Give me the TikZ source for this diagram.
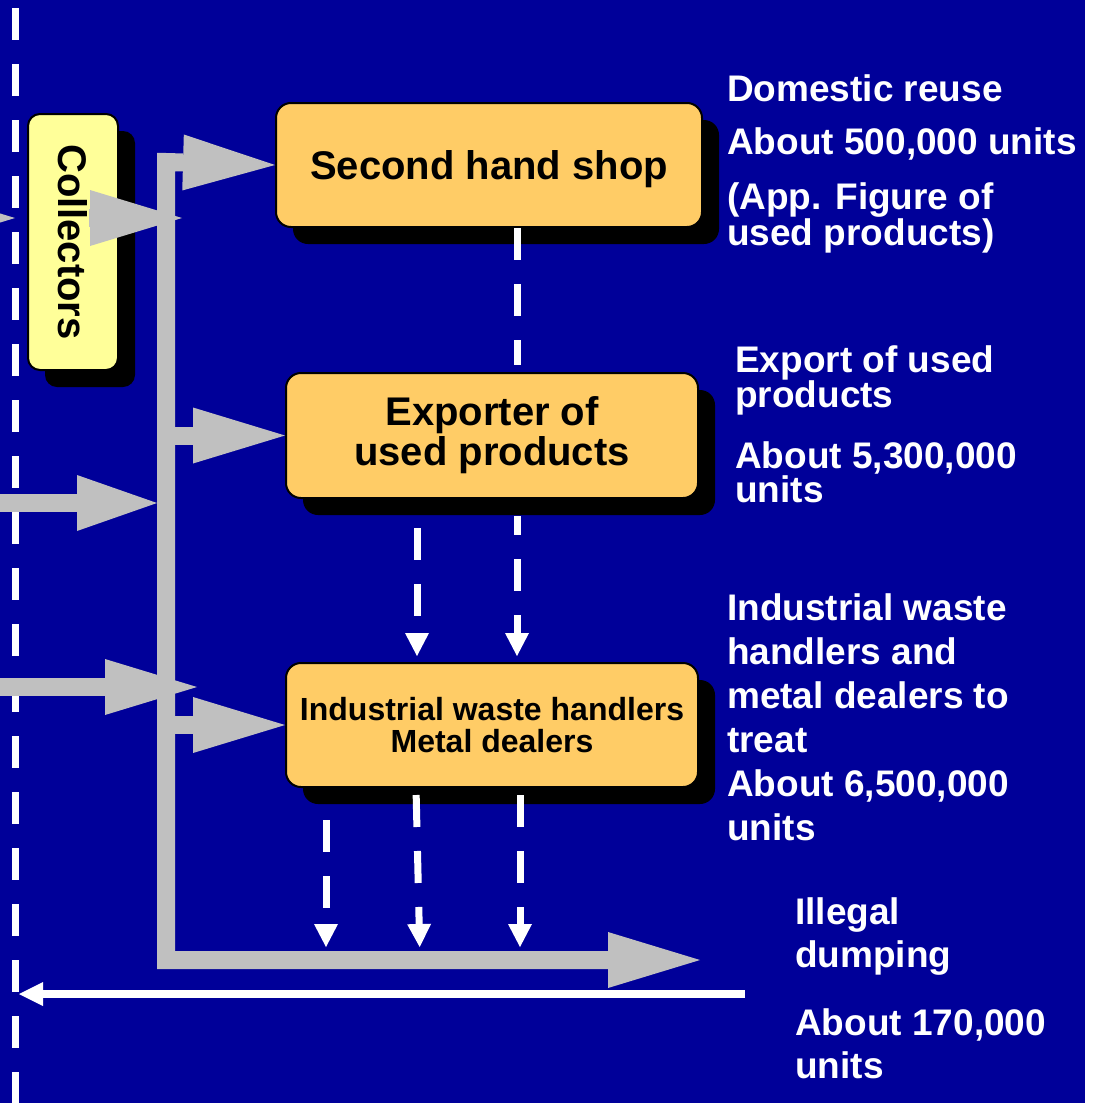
\documentclass[tikz,border=0pt]{standalone}
\usepackage{fontspec}
\setmainfont{Liberation Sans}
\usetikzlibrary{arrows.meta,shadows}

\definecolor{bgblue}{RGB}{0,0,153}
\definecolor{flowgray}{RGB}{192,192,192}
\definecolor{stageorange}{RGB}{255,204,102}
\definecolor{collectyellow}{RGB}{255,255,153}

\tikzset{
  stage/.style={draw=black, line width=2pt, fill=stageorange, rounded corners=15pt,
    inner sep=0pt, align=center, text=black,
    drop shadow={shadow xshift=17pt, shadow yshift=-17pt, fill=black, opacity=1}},
  flow/.style={draw=flowgray, line width=18pt, line join=miter, -{Triangle[length=92pt, width=56pt, line width=0pt]}},
  dropline/.style={draw=white, line width=7pt, dash pattern=on 32pt off 24pt},
  droparrow/.style={dropline, -{Triangle[length=23pt, width=24pt, line width=0pt]}},
  note/.style={text=white, align=left, inner sep=0pt, anchor=base west}
}

\begin{document}
\begin{tikzpicture}[x=1pt, y=-1pt]
  \useasboundingbox (0,0) rectangle (1097,1103);
  \clip (0,0) rectangle (1097,1103);
  \fill[bgblue] (0,0) rectangle (1085,1103);
  \fill[white] (1085,0) rectangle (1097,1103);

  \draw[dropline] (15.5,-48) -- (15.5,1110);

  \node[stage, minimum width=426pt, minimum height=124pt, text depth=0pt,
    font=\bfseries\fontsize{40}{40}\selectfont] (shop) at (489,165) {Second hand shop};
  \node[stage, minimum width=412pt, minimum height=125pt,
    font=\bfseries\fontsize{40}{40}\selectfont] (exporter) at (492,435.5) {Exporter of\\used products};
  \node[stage, minimum width=412pt, minimum height=124pt,
    font=\bfseries\fontsize{32}{32}\selectfont] (handlers) at (492,725) {Industrial waste handlers\\Metal dealers};
  \node[stage, fill=collectyellow, rounded corners=12pt, minimum width=90pt, minimum height=256pt,
    font=\bfseries\fontsize{40}{40}\selectfont] (collectors) at (73,242) {\rotatebox{-90}{Collectors}};

  \coordinate (top) at (166,162);
  \coordinate (bend) at (166,960);
  \coordinate (dump) at (700,960);
  \coordinate (in1) at (-100,218);
  \coordinate (in1tip) at (15,218);
  \coordinate (col1) at (89,218);
  \coordinate (col1tip) at (182,218);
  \coordinate (in2) at (-20,503);
  \coordinate (in2tip) at (157,503);
  \coordinate (in3) at (-20,687);
  \coordinate (in3tip) at (197,687);
  \coordinate (retstart) at (745,994);
  \coordinate (retend) at (19,994);

  \draw[flow, {Triangle[length=92pt, width=56pt, line width=0pt]}-{Triangle[length=92pt, width=56pt, line width=0pt]}]
    (shop.west) -- (top) -- (bend) -- (dump);
  \draw[flow] (top |- exporter.west) -- (exporter.west);
  \draw[flow] (top |- handlers.west) -- (handlers.west);
  \draw[flow] (in1) -- (in1tip);
  \draw[flow] (col1) -- (col1tip);
  \draw[flow, -{Triangle[length=80pt, width=56pt, line width=0pt]}] (in2) -- (in2tip);
  \draw[flow] (in3) -- (in3tip);

  \draw[draw=white, line width=8pt, -{Triangle[length=24pt, width=24pt, line width=0pt]}] (retstart) -- (retend);

  \draw[dropline, shorten >=7pt] ([xshift=28pt]shop.south) -- ([xshift=25pt]exporter.north);
  \draw[droparrow, dash phase=44pt, shorten >=6pt] ([xshift=-75pt,yshift=-17pt]exporter.south) -- ([xshift=-75pt]handlers.north);
  \draw[droparrow, dash phase=13pt, shorten >=6pt] ([xshift=25pt,yshift=-17pt]exporter.south) -- ([xshift=25pt]handlers.north);
  \draw[droparrow, dash phase=42pt, shorten >=13pt] ([xshift=-166pt,yshift=-18pt]handlers.south) -- ([xshift=-166pt]handlers.south |- bend);
  \draw[droparrow, dash phase=49pt, shorten >=13pt] ([xshift=-76pt]handlers.south) -- ([xshift=-72pt]handlers.south |- bend);
  \draw[droparrow, dash phase=49pt, shorten >=13pt] ([xshift=28pt]handlers.south) -- ([xshift=28pt]handlers.south |- bend);

  \node[note, font=\bfseries\fontsize{37}{33}\selectfont] (reusenote) at (727,245)
    {Domestic reuse\\[20pt]About 500,000 units\\[22pt](App. Figure of\\used products)};
  \node[note, font=\bfseries\fontsize{37}{34}\selectfont] (exportnote) at (735,502)
    {Export of used\\products\\[25pt]About 5,300,000\\units};
  \node[note, font=\bfseries\fontsize{37}{44}\selectfont] (treatnote) at (727,840)
    {Industrial waste\\handlers and\\metal dealers to\\treat\\About 6,500,000\\units};
  \node[note, font=\bfseries\fontsize{37}{43}\selectfont] (dumpnote) at (795,1078)
    {Illegal\\dumping\\[25pt]About 170,000\\units};
\end{tikzpicture}
\end{document}
